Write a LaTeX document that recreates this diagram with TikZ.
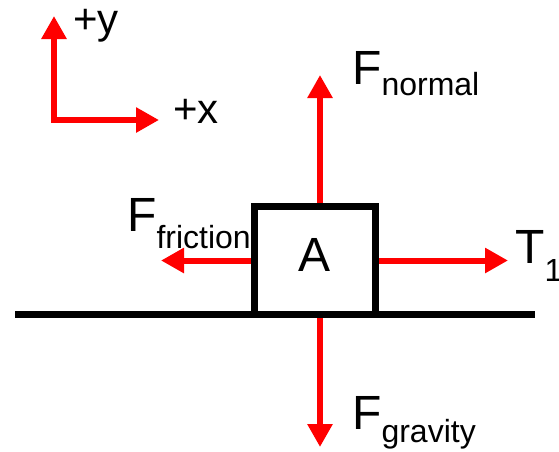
\documentclass[tikz,border=0pt]{standalone}
\usepackage{fontspec}
\setmainfont{Liberation Sans}
\usetikzlibrary{positioning,arrows.meta}
\newcommand{\fbdfont}{\fontsize{48}{48}\selectfont}
\newcommand{\axfont}{\fontsize{42}{42}\selectfont}
\newcommand{\fbdsub}[2]{\raisebox{-#1}{\fontsize{32}{32}\selectfont #2}}

\begin{document}
\begin{tikzpicture}[x=1pt,y=-1pt,
      force/.style={draw=red,line width=6pt,line join=miter,-{Triangle[length=23pt,width=24pt]}},
      lbl/.style={font=\fbdfont,inner sep=0pt,anchor=base west},
      block/.style={draw,line width=7pt,minimum width=121pt,minimum height=108pt,font=\fbdfont,text depth=12pt}]
    \useasboundingbox (0,0) rectangle (559,451);
    % axes
    \coordinate (yend) at (54,16);
    \coordinate (corner) at (54,120);
    \coordinate (xend) at (159,120);
    \draw[force,{Triangle[length=23pt,width=24pt]}-{Triangle[length=23pt,width=24pt]}] (yend) -- (corner) -- (xend);
    \node[lbl,font=\axfont] (ylbl) at (73,33) {+y};
    \node[lbl,font=\axfont] (xlbl) at (173,123) {+x};
    % block on the floor
    \node[block] (A) at (315,260.5) {A};
    \coordinate (floorL) at (15,314);
    \coordinate (floorR) at (535,314);
    \draw[line width=7pt] (floorL) -- (floorR);
    % forces
    \coordinate (ntip) at (320,75);
    \coordinate (gtip) at (320,447);
    \coordinate (ftip) at (161,260.5);
    \coordinate (ttip) at (508,260.5);
    \draw[force] ([xshift=5pt]A.north) -- (ntip);
    \draw[force] ([xshift=5pt]A.south) -- (gtip);
    \draw[force] (A.west) -- (ftip);
    \draw[force] (A.east) -- (ttip);
    \node[lbl] (Fn) at (352,84) {F\fbdsub{11pt}{normal}};
    \node[lbl] (Fg) at (352,429) {F\fbdsub{13pt}{gravity}};
    \node[lbl] (Ff) at (127,231) {F\fbdsub{17pt}{friction}};
    \node[lbl] (T1) at (515,263) {T\fbdsub{18pt}{1}};
  \end{tikzpicture}
\end{document}
